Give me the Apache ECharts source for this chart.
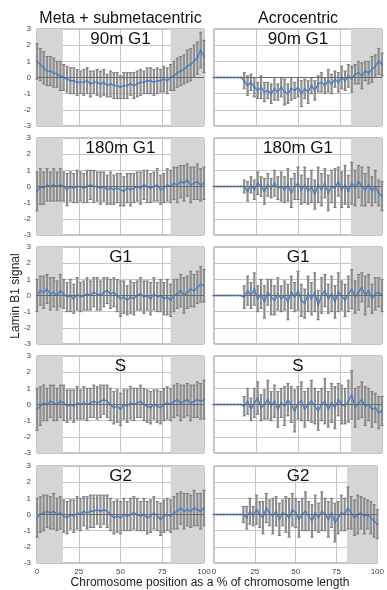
<!DOCTYPE html>
<html>
<head>
<meta charset="utf-8">
<style>
  html, body { margin: 0; padding: 0; background: #fff; }
  #chart { width: 387px; height: 590px; }
</style>
<script src="https://cdn.jsdelivr.net/npm/echarts@6/dist/echarts.min.js"></script>
</head>
<body>
<div id="chart"></div>
<script>
// bins along the chromosome, every 2 %
const binStep = 2;

const columnTitles = ["Meta + submetacentric", "Acrocentric"];
const panelTitles = ["90m G1", "180m G1", "G1", "S", "G2"];
const xTicks = [0, 25, 50, 75, 100];

// Meta + submetacentric (left column)
const metaMean90 = [
  1.0,0.8,0.6,0.4,0.4,0.3,0.2,0.1,0.0,-0.1,
  -0.2,-0.2,-0.3,-0.3,-0.3,-0.2,-0.4,-0.3,-0.3,-0.4,
  -0.3,-0.5,-0.4,-0.5,-0.5,-0.6,-0.5,-0.5,-0.4,-0.5,
  -0.4,-0.3,-0.3,-0.2,-0.2,-0.3,-0.2,-0.2,-0.1,-0.2,
  0.0,0.1,0.3,0.4,0.5,0.7,0.8,1.0,1.2,1.7,
  1.3
];
const metaErr90 = [
  1.1,1.0,1.0,0.9,0.9,0.9,0.8,0.9,0.8,0.8,
  0.8,0.8,0.8,0.7,0.8,0.8,0.8,0.7,0.8,0.8,
  0.8,0.7,0.8,0.8,0.8,0.7,0.8,0.8,0.7,0.8,
  0.8,0.8,0.7,0.8,0.8,0.8,0.8,0.7,0.8,0.8,
  0.8,0.9,0.9,0.9,0.9,1.0,1.0,1.0,1.0,1.1,
  1.0
];
const metaMean180 = [
  -0.3,0.0,-0.1,0.1,0.0,0.1,0.0,0.1,0.0,-0.2,
  0.0,-0.1,0.0,0.0,-0.1,0.0,0.1,0.0,0.0,-0.1,
  0.0,-0.2,-0.1,-0.2,-0.1,-0.2,-0.3,-0.1,-0.2,-0.1,
  0.0,-0.1,0.1,0.0,-0.1,0.0,0.1,-0.2,-0.1,0.1,
  0.0,0.2,0.1,0.3,0.2,0.4,0.1,0.2,0.3,0.1,
  0.2
];
const metaErr180 = [
  1.2,1.1,1.0,1.0,0.9,1.0,0.9,1.0,0.9,1.0,
  0.9,0.9,1.0,0.9,0.9,1.0,0.9,1.0,0.9,1.0,
  0.9,0.9,1.0,0.9,0.9,1.0,0.9,0.9,1.0,0.9,
  0.9,1.0,0.9,1.0,0.9,0.9,1.0,0.9,0.9,1.0,
  1.0,1.0,1.1,1.0,1.1,1.0,1.1,1.0,1.1,1.0,
  1.0
];
const metaMeanG1 = [
  0.0,0.3,0.2,0.4,0.1,0.2,0.0,0.3,0.1,-0.1,
  0.0,-0.2,0.1,-0.1,0.0,0.1,0.0,0.2,0.1,0.0,
  0.2,0.3,0.1,0.2,0.0,-0.2,-0.1,-0.3,-0.1,-0.2,
  0.0,0.1,-0.1,0.0,-0.2,0.1,-0.1,0.0,-0.2,-0.1,
  -0.3,0.0,0.1,0.3,0.0,0.2,0.4,0.3,0.5,0.7,
  0.6
];
const metaErrG1 = [
  1.0,0.9,1.0,0.9,1.0,0.9,0.9,1.0,0.9,0.9,
  1.0,0.9,1.0,0.9,0.9,1.0,0.9,0.9,1.0,0.9,
  0.9,0.8,0.9,0.9,1.0,1.1,1.0,0.9,1.0,1.0,
  0.9,1.0,1.0,0.9,1.0,1.0,0.9,1.0,1.0,1.1,
  1.0,1.0,0.9,1.0,1.1,1.0,1.1,1.0,1.0,1.1,
  1.0
];
const metaMeanS = [
  -0.3,-0.1,0.1,0.0,0.2,0.1,0.0,0.2,0.1,-0.1,
  0.0,-0.1,0.1,0.0,0.1,0.0,0.1,0.2,0.1,0.2,
  0.3,0.2,0.0,-0.2,-0.1,-0.3,0.0,-0.1,0.1,0.0,
  0.1,0.2,0.0,-0.1,-0.2,0.0,-0.1,-0.2,0.0,0.1,
  0.0,0.2,0.3,0.1,0.2,0.3,0.1,0.2,0.3,0.2,
  0.3
];
const metaErrS = [
  1.3,1.2,1.1,1.0,1.0,1.1,1.0,1.0,1.1,1.0,
  0.9,1.0,1.0,0.9,1.0,1.0,0.9,1.0,1.0,1.0,
  0.9,1.0,1.0,1.0,1.0,1.0,0.9,1.0,1.0,1.0,
  0.9,1.0,1.0,1.0,1.0,0.9,1.0,1.0,1.0,1.0,
  1.0,1.0,1.0,1.1,1.0,1.0,1.1,1.0,1.1,1.1,
  1.2
];
const metaMeanG2 = [
  -0.2,0.0,0.1,0.2,0.1,0.2,0.0,0.1,-0.1,-0.2,
  0.0,-0.1,0.1,0.0,0.2,0.1,0.2,0.2,0.3,0.2,
  0.3,0.2,0.0,-0.2,-0.1,-0.2,0.0,-0.1,0.0,0.1,
  0.0,-0.1,0.0,-0.2,-0.1,0.1,-0.1,-0.3,-0.1,0.0,
  -0.1,0.1,0.2,0.4,0.2,0.3,0.2,0.4,0.3,0.2,
  0.4
];
const metaErrG2 = [
  1.2,1.1,1.1,1.0,1.0,1.1,1.0,1.0,1.0,1.0,
  0.9,1.0,1.0,1.0,0.9,1.0,1.0,1.0,0.9,1.0,
  0.9,1.0,1.0,1.0,1.0,1.0,1.0,0.9,1.0,1.0,
  1.0,0.9,1.0,1.0,1.0,1.0,0.9,1.0,1.0,1.0,
  1.0,1.0,1.1,1.0,1.1,1.0,1.0,1.1,1.0,1.1,
  1.1
];

// Acrocentric (right column); first bins (short arm) are flat at 0
const acroMean90 = [
  0,0,0,0,0,0,0,0,0,
  -0.2,-0.5,-0.3,-0.6,-0.8,-0.6,-0.9,-0.8,-1.0,-0.7,
  -0.9,-0.6,-0.9,-1.0,-0.7,-0.8,-0.6,-1.0,-0.7,-0.9,
  -0.5,-0.8,-0.4,-0.3,-0.5,-0.2,-0.4,-0.1,-0.3,0.0,
  -0.2,0.1,-0.1,0.2,0.3,0.1,0.4,0.3,0.5,0.7,
  1.0,0.8
];
const acroErr90 = [
  0,0,0,0,0,0,0,0,0,
  0.5,0.6,0.5,0.6,0.5,0.7,0.6,0.5,0.6,0.7,
  0.5,0.6,0.8,0.6,0.7,0.5,0.6,0.8,0.6,0.7,
  0.5,0.6,0.5,0.6,0.5,0.7,0.6,0.5,0.6,0.7,
  0.6,0.7,0.8,0.6,0.7,0.8,0.6,0.7,0.8,0.7,
  0.8,0.7
];
const acroMean180 = [
  0,0,0,0,0,0,0,0,0,
  0.0,-0.3,0.1,-0.2,0.2,0.0,-0.3,0.1,-0.1,0.2,
  -0.1,0.0,-0.2,0.1,-0.4,0.0,0.2,-0.2,0.1,-0.3,
  0.0,-0.5,0.1,-0.2,0.2,-0.4,0.0,-0.1,0.3,-0.2,
  0.1,-0.3,0.2,-0.1,0.3,0.0,-0.2,0.1,-0.3,0.0,
  -0.4,-0.6
];
const acroErr180 = [
  0,0,0,0,0,0,0,0,0,
  0.4,0.6,0.5,0.6,0.7,0.6,0.8,0.7,0.6,0.8,
  0.7,0.9,0.8,1.0,0.9,0.8,1.0,0.9,1.1,0.8,
  1.0,0.9,1.1,1.0,0.9,1.1,1.0,1.2,0.9,1.1,
  1.2,1.0,1.3,1.1,1.0,1.2,1.0,1.1,0.9,1.0,
  0.8,0.9
];
const acroMeanG1 = [
  0,0,0,0,0,0,0,0,0,
  -0.1,0.3,0.0,0.4,-0.2,0.1,-0.4,0.2,-0.1,-0.3,
  0.1,-0.2,0.0,-0.4,0.2,-0.1,0.3,-0.3,-0.5,0.1,
  -0.2,0.2,-0.6,0.0,0.3,-0.2,0.1,-0.4,0.2,0.0,
  -0.3,0.1,0.4,-0.1,0.2,0.5,0.0,0.3,-0.2,0.1,
  0.2,0.0
];
const acroErrG1 = [
  0,0,0,0,0,0,0,0,0,
  0.7,0.9,0.8,1.0,0.8,0.9,1.0,0.8,1.1,0.9,
  1.0,0.8,0.9,1.1,1.0,0.9,1.2,1.0,0.9,1.1,
  1.0,1.2,0.9,1.1,1.0,0.9,1.1,1.0,1.2,0.9,
  1.0,1.1,1.2,1.0,1.1,0.9,1.2,1.0,0.9,1.0,
  0.9,1.0
];
const acroMeanS = [
  0,0,0,0,0,0,0,0,0,
  -0.1,0.2,-0.3,0.1,0.4,-0.2,0.0,0.3,-0.1,0.2,
  -0.3,0.1,-0.1,0.3,0.0,-0.4,0.1,0.2,-0.3,0.0,
  0.2,-0.1,-0.4,0.0,0.2,-0.3,0.1,-0.2,0.3,0.0,
  -0.1,0.2,0.6,-0.2,0.1,0.3,-0.1,0.0,-0.3,-0.2,
  -0.5,-0.4
];
const acroErrS = [
  0,0,0,0,0,0,0,0,0,
  0.6,0.8,0.7,0.9,1.0,0.8,0.9,1.2,0.9,1.0,
  1.1,0.9,1.2,1.0,1.1,1.3,1.0,1.2,1.1,1.0,
  1.3,1.1,1.2,1.0,1.4,1.1,1.2,1.3,1.0,1.2,
  1.1,1.3,1.5,1.2,1.0,1.1,1.2,1.0,1.1,0.9,
  1.0,0.9
];
const acroMeanG2 = [
  0,0,0,0,0,0,0,0,0,
  0.0,-0.2,0.2,-0.1,0.3,0.0,-0.2,0.4,0.1,-0.1,
  0.2,-0.3,0.1,0.0,-0.2,0.3,0.1,-0.3,0.0,0.2,
  -0.1,-0.4,0.1,-0.2,0.2,0.0,-0.3,0.1,-0.5,-0.2,
  0.1,0.0,0.4,0.1,-0.2,0.0,0.1,-0.1,0.0,-0.2,
  -0.4,-0.6
];
const acroErrG2 = [
  0,0,0,0,0,0,0,0,0,
  0.5,0.7,0.8,0.6,0.9,0.8,1.0,0.9,0.8,1.1,
  0.9,1.0,0.8,1.1,1.2,1.0,0.9,1.1,1.0,1.2,
  0.9,1.0,1.1,0.9,1.2,1.0,1.1,0.9,1.2,1.0,
  1.1,1.0,1.3,1.0,1.1,1.2,1.0,1.1,0.9,1.0,
  1.0,0.9
];

// shaded (pericentromere / telomere) ranges in % of length
const metaShade = [[0, 15.5], [80, 100]];
const acroShade = [[81.5, 100]];

const columns = [
  { means: [metaMean90, metaMean180, metaMeanG1, metaMeanS, metaMeanG2],
    errs: [metaErr90, metaErr180, metaErrG1, metaErrS, metaErrG2],
    shade: metaShade, left: 37, width: 167 },
  { means: [acroMean90, acroMean180, acroMeanG1, acroMeanS, acroMeanG2],
    errs: [acroErr90, acroErr180, acroErrG1, acroErrS, acroErrG2],
    shade: acroShade, left: 214, width: 168 }
];
const rowTops = [29, 138, 247, 356, 466];
const panelHeight = 97;

const FONT = '"Liberation Sans", Arial, sans-serif';
const gridColor = "#c6c6c6";

const chart = echarts.init(document.getElementById("chart"), null, { renderer: "canvas" });

const grid = [], xAxis = [], yAxis = [], series = [], graphic = [];

function errorBarItem(params, api) {
  const x = api.value(0);
  const top = api.coord([x, api.value(2)]);
  const bot = api.coord([x, api.value(1)]);
  const cap = 1.6;
  const barStyle = { stroke: "#8e8e8e", lineWidth: 2.2 };
  const capStyle = { stroke: "#7a7a7a", lineWidth: 1 };
  return {
    type: "group",
    children: [
      { type: "line", shape: { x1: top[0], y1: top[1], x2: bot[0], y2: bot[1] }, style: barStyle },
      { type: "line", shape: { x1: top[0] - cap, y1: top[1], x2: top[0] + cap, y2: top[1] }, style: capStyle },
      { type: "line", shape: { x1: bot[0] - cap, y1: bot[1], x2: bot[0] + cap, y2: bot[1] }, style: capStyle }
    ]
  };
}

columns.forEach((col, c) => {
  rowTops.forEach((top, r) => {
    const idx = grid.length;
    const bottomRow = r === rowTops.length - 1;
    grid.push({
      left: col.left, top: top, width: col.width, height: panelHeight,
      show: true, borderColor: "#8a8a8a", borderWidth: 1, backgroundColor: "transparent"
    });
    xAxis.push({
      type: "value", gridIndex: idx, min: 0, max: 100, interval: 25,
      axisLine: { show: false }, axisTick: { show: false },
      splitLine: { show: true, lineStyle: { color: gridColor, width: 1 } },
      axisLabel: { show: bottomRow, fontSize: 8, color: "#444", margin: 5, fontFamily: FONT,
        showMinLabel: true, showMaxLabel: true }
    });
    yAxis.push({
      type: "value", gridIndex: idx, min: -3, max: 3, interval: 1,
      axisLine: { show: false }, axisTick: { show: false },
      splitLine: { show: true, lineStyle: { color: gridColor, width: 1 } },
      axisLabel: { show: c === 0, fontSize: 8, color: "#444", margin: 6, fontFamily: FONT }
    });

    const means = col.means[r];
    const errs = col.errs[r];
    const lineData = means.map((m, i) => [i * binStep, m]);
    const barData = means.map((m, i) => [i * binStep, m - errs[i], m + errs[i]]);

    // shading behind gridlines
    series.push({
      type: "line", xAxisIndex: idx, yAxisIndex: idx, data: [], z: -1, silent: true,
      markArea: {
        silent: true,
        itemStyle: { color: "#d5d5d5" },
        data: col.shade.map(s => [{ xAxis: s[0] }, { xAxis: s[1] }])
      }
    });
    series.push({
      type: "custom", xAxisIndex: idx, yAxisIndex: idx, data: barData,
      renderItem: errorBarItem, silent: true, z: 2
    });
    series.push({
      type: "line", xAxisIndex: idx, yAxisIndex: idx, data: lineData,
      symbol: "circle", symbolSize: 2, showSymbol: true,
      itemStyle: { color: "#4b7fc2" },
      lineStyle: { color: "#4b7fc2", width: 1.4 },
      silent: true, z: 4,
      markLine: {
        silent: true, symbol: "none", label: { show: false },
        lineStyle: { color: "#6a6a6a", width: 1, type: "solid" },
        data: [{ yAxis: 0 }]
      }
    });

    graphic.push({
      type: "text", x: col.left + col.width / 2, y: top + 10, z: 10,
      style: { text: panelTitles[r], font: "17px " + FONT, fill: "#111",
        align: "center", verticalAlign: "middle" }
    });
  });
  graphic.push({
    type: "text", x: col.left + col.width / 2, y: 19,
    style: { text: columnTitles[c], font: "16px " + FONT, fill: "#111",
      align: "center", verticalAlign: "middle" }
  });
});

graphic.push({
  type: "text", x: 16, y: 296, rotation: Math.PI / 2,
  style: { text: "Lamin B1 signal", font: "12px " + FONT, fill: "#222",
    align: "center", verticalAlign: "middle" }
});
graphic.push({
  type: "text", x: 210, y: 583,
  style: { text: "Chromosome position as a % of chromosome length", font: "12px " + FONT, fill: "#222",
    align: "center", verticalAlign: "middle" }
});

chart.setOption({
  backgroundColor: "#fff",
  animation: false,
  grid, xAxis, yAxis, series, graphic
});
</script>
</body>
</html>
